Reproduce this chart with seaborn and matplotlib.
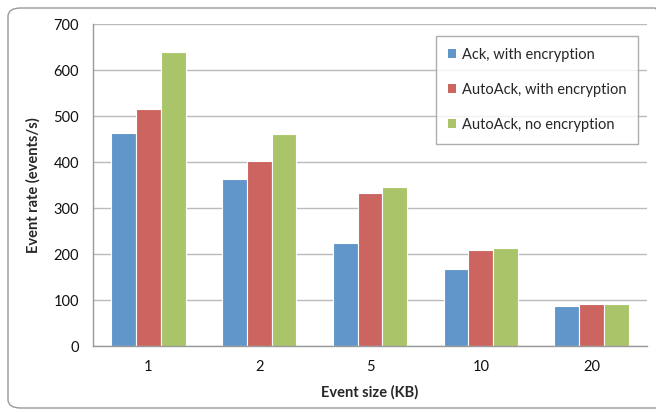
import matplotlib
matplotlib.use("Agg")
import matplotlib.pyplot as plt
import seaborn as sns
import pandas as pd
from matplotlib.patches import FancyBboxPatch, Patch

sizes = ["1", "2", "5", "10", "20"]
series = ["Ack, with encryption", "AutoAck, with encryption", "AutoAck, no encryption"]
ack_enc = [463, 362, 224, 167, 87]
autoack_enc = [515, 402, 333, 208, 92]
autoack_noenc = [640, 460, 346, 212, 92]
colors = ["#6096C9", "#CC6560", "#AAC46A"]

rows = []
for s, vals in zip(series, [ack_enc, autoack_enc, autoack_noenc]):
    for c, v in zip(sizes, vals):
        rows.append({"size": c, "series": s, "rate": v})
df = pd.DataFrame(rows)

sns.set_theme(style="white")
plt.rcParams["font.family"] = ["Lato", "DejaVu Sans"]

fig = plt.figure(figsize=(6.56, 4.12), dpi=100)
ax = fig.add_axes([93/656, 1-346/412, (647-93)/656, (346-24)/412])

sns.barplot(data=df, x="size", y="rate", hue="series", order=sizes,
            hue_order=series, palette=colors, width=0.67, ax=ax,
            edgecolor="white", linewidth=0.8, saturation=1, legend=False)

ax.set_ylim(0, 700)
ax.set_xlim(-0.5, 4.5)
ax.set_yticks(range(0, 701, 100))
ax.yaxis.grid(True, color="#BBBBBB", linewidth=1)
ax.set_axisbelow(True)
for sp in ["top", "right"]:
    ax.spines[sp].set_visible(False)
for sp in ["left", "bottom"]:
    ax.spines[sp].set_color("#999999")
    ax.spines[sp].set_linewidth(1)

ax.set_xticks(range(5))
ax.set_xticklabels(sizes)
ax.set_xticks([i - 0.5 for i in range(6)], minor=True)
ax.tick_params(axis="x", which="major", length=0, pad=10, labelsize=10.5, colors="#111111")
ax.tick_params(axis="x", which="minor", length=5, color="#999999", width=1)
ax.tick_params(axis="y", which="major", length=5, color="#999999", width=1,
               pad=5, labelsize=10.5, labelcolor="#111111")

ax.set_xlabel("Event size (KB)", fontsize=10.5, fontweight="bold", labelpad=8)
ax.set_ylabel("Event rate (events/s)", fontsize=10.5, fontweight="bold", labelpad=9)

handles = [Patch(facecolor=c, edgecolor="none", label=s) for c, s in zip(colors, series)]
leg = ax.legend(handles=handles, loc="upper left", bbox_to_anchor=(0.619, 0.963),
                fontsize=10.5, frameon=True, fancybox=False, shadow=False,
                handlelength=0.6, handleheight=0.6, handletextpad=0.4,
                labelspacing=1.45, borderpad=0.8, borderaxespad=0)
leg.get_frame().set_edgecolor("#999999")
leg.get_frame().set_linewidth(1)

box = FancyBboxPatch((8/656, 4/412), 660/656, 400/412,
                     boxstyle="round,pad=0,rounding_size=0.02",
                     transform=fig.transFigure, facecolor="none",
                     edgecolor="#999999", linewidth=1, clip_on=False)
fig.patches.append(box)

fig.savefig("out.png", dpi=100)
